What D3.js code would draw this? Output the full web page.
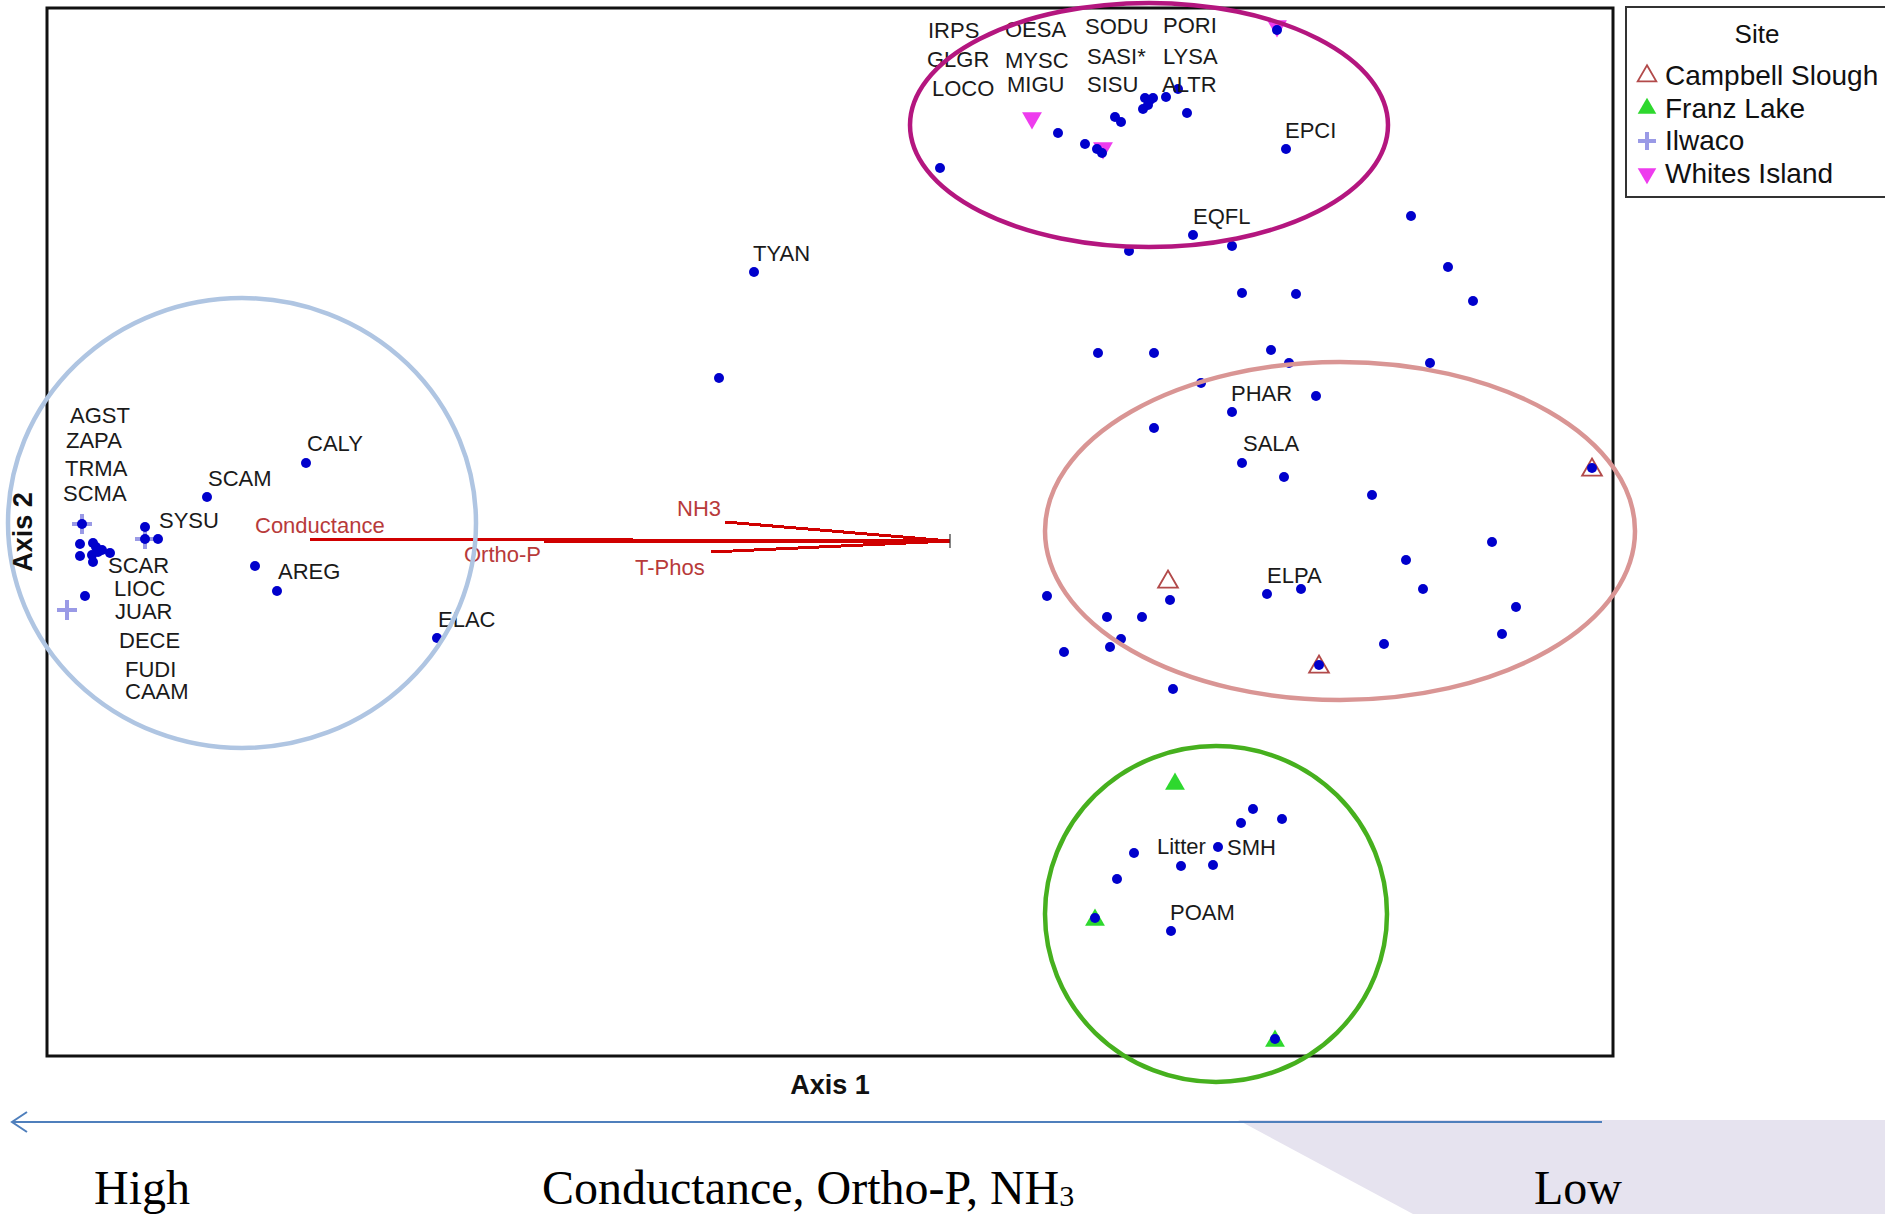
<!DOCTYPE html>
<html>
<head>
<meta charset="utf-8">
<title>NMS ordination by site</title>
<script src="https://d3js.org/d3.v7.min.js"></script>
<style>
	body, html{
		margin: 0;
		padding: 0;
		background: #fff;
		overflow: hidden;
	}
	svg{
		display: block;
	}
	.code{
		font-family: 'Liberation Sans', Arial, sans-serif;
		font-size: 22px;
		fill: #1a1a1a;
	}
	.vec-label{
		font-family: 'Liberation Sans', Arial, sans-serif;
		font-size: 22px;
		fill: #b83a3a;
	}
	.axis-title{
		font-family: 'Liberation Sans', Arial, sans-serif;
		font-size: 27px;
		font-weight: bold;
		fill: #111;
	}
	.legend-text{
		font-family: 'Liberation Sans', Arial, sans-serif;
		font-size: 28px;
		fill: #111;
	}
	.slide-text{
		font-family: 'Liberation Serif', 'Times New Roman', serif;
		font-size: 48px;
		fill: #000;
	}
</style>
</head>
<body>
<svg id="chart" width="1885" height="1214"></svg>

<script>
	// ordination axis ranges (NMS scores)
	var axis1Range = [-1.566, 1.566],
		axis2Range = [-1.048, 1.048];

	// sample units (blue dots), [axis1, axis2]
	var samplePoints = [
		[0.894, 1.004], [0.456, 0.798], [0.220, 0.728], [0.510, 0.776], [0.534, 0.766],
		[0.544, 0.758], [0.570, 0.830], [0.582, 0.820], [0.630, 0.868], [0.640, 0.864],
		[0.636, 0.854], [0.626, 0.846], [0.646, 0.868], [0.672, 0.870], [0.696, 0.886],
		[0.714, 0.838], [0.912, 0.766], [0.726, 0.594], [0.598, 0.562], [0.804, 0.572],
		[1.162, 0.632], [1.236, 0.530], [1.286, 0.462], [0.824, 0.478], [0.932, 0.476],
		[0.536, 0.358], [0.648, 0.358], [0.882, 0.364], [0.918, 0.338], [1.200, 0.338],
		[0.742, 0.298], [0.972, 0.272], [0.804, 0.240], [0.648, 0.208], [0.824, 0.138],
		[0.908, 0.110], [1.084, 0.074], [1.524, 0.128], [1.324, -0.020], [1.152, -0.056],
		[1.186, -0.114], [0.942, -0.114], [0.874, -0.124], [0.680, -0.136], [0.434, -0.128],
		[0.554, -0.170], [0.624, -0.170], [1.372, -0.150], [1.344, -0.204], [1.108, -0.224],
		[0.582, -0.214], [0.560, -0.230], [0.468, -0.240], [0.978, -0.266], [0.686, -0.314],
		[-0.152, 0.520], [-0.222, 0.308],
		[0.846, -0.554], [0.822, -0.582], [0.904, -0.574], [0.608, -0.642], [0.776, -0.630],
		[0.702, -0.668], [0.766, -0.666], [0.574, -0.694], [0.530, -0.772], [0.682, -0.798],
		[0.890, -1.014],
		[-1.496, 0.016], [-1.500, -0.024], [-1.500, -0.048], [-1.474, -0.022], [-1.468, -0.030],
		[-1.476, -0.046], [-1.474, -0.060], [-1.456, -0.036], [-1.440, -0.042], [-1.464, -0.040],
		[-1.370, 0.010], [-1.370, -0.014], [-1.344, -0.014], [-1.490, -0.128],
		[-1.048, 0.138], [-1.246, 0.070], [-1.150, -0.068], [-1.106, -0.118], [-0.786, -0.212]
	];

	// sites
	var siteNames = ['Campbell Slough', 'Franz Lake', 'Ilwaco', 'Whites Island'];
	var campbellSlough = [[0.676, -0.100], [1.524, 0.124], [0.978, -0.270]];
	var franzLake = [[0.690, -0.504], [0.530, -0.776], [0.890, -1.018]];
	var ilwaco = [[-1.496, 0.016], [-1.370, -0.014], [-1.526, -0.156]];
	var whitesIsland = [[0.894, 1.012], [0.404, 0.828], [0.546, 0.768]];

	// species codes, [code, axis1, axis2]
	var speciesLabels = [
		['IRPS', 0.196, 0.988], ['GLGR', 0.194, 0.930], ['LOCO', 0.204, 0.872],
		['OESA', 0.350, 0.990], ['MYSC', 0.350, 0.928], ['MIGU', 0.354, 0.880],
		['SODU', 0.510, 0.996], ['SASI*', 0.514, 0.936], ['SISU', 0.514, 0.880],
		['PORI', 0.666, 0.998], ['LYSA', 0.666, 0.936], ['ALTR', 0.664, 0.880],
		['EPCI', 0.910, 0.788], ['EQFL', 0.726, 0.616], ['TYAN', -0.154, 0.542],
		['PHAR', 0.802, 0.262], ['SALA', 0.826, 0.162], ['ELPA', 0.874, -0.102],
		['Litter', 0.654, -0.644], ['SMH', 0.794, -0.646], ['POAM', 0.680, -0.776],
		['AGST', -1.520, 0.218], ['ZAPA', -1.528, 0.168], ['TRMA', -1.530, 0.112],
		['SCMA', -1.534, 0.062], ['SYSU', -1.342, 0.008], ['SCAR', -1.444, -0.082],
		['LIOC', -1.432, -0.128], ['JUAR', -1.430, -0.174], ['DECE', -1.422, -0.232],
		['FUDI', -1.410, -0.290], ['CAAM', -1.410, -0.334], ['CALY', -1.046, 0.162],
		['SCAM', -1.244, 0.092], ['AREG', -1.104, -0.094], ['ELAC', -0.784, -0.190]
	];

	// environmental vectors (joint plot)
	var vectorOrigin = [0.240, -0.018];
	var vectorNames = ['Conductance', 'Ortho-P', 'NH3', 'T-Phos'];
	var vectorEnds = [[-1.040, -0.014], [-0.572, -0.018], [-0.210, 0.020], [-0.238, -0.040]];
	var vectorLabelPos = [[-1.150, -0.002], [-0.732, -0.060], [-0.306, 0.032], [-0.390, -0.086]];

	// hand drawn groups, [cx, cy, rx, ry]
	var groupEllipses = [
		[-1.176, 0.018, 0.468, 0.450],
		[0.638, 0.814, 0.478, 0.244],
		[1.020, 0.002, 0.590, 0.338],
		[0.772, -0.764, 0.342, 0.336]
	];
	var groupColors = ['#afc5e2', '#b4167f', '#d99594', '#46b01e'];

	var svg = d3.select('#chart'),
		frame = {left: 47, top: 8, right: 1613, bottom: 1056},
		x = d3.scaleLinear().domain(axis1Range).range([frame.left, frame.right]),
		y = d3.scaleLinear().domain(axis2Range).range([frame.bottom, frame.top]);

	svg.append('rect').attr('width', 1885).attr('height', 1214).attr('fill', '#fff');

	// plot frame
	svg.append('rect')
		.attr('x', frame.left).attr('y', frame.top)
		.attr('width', frame.right - frame.left).attr('height', frame.bottom - frame.top)
		.attr('fill', 'none').attr('stroke', '#111').attr('stroke-width', 3);

	// vectors
	var vec = svg.append('g');
	vectorEnds.forEach(function(e, i){
		vec.append('line')
			.attr('x1', x(vectorOrigin[0])).attr('y1', y(vectorOrigin[1]))
			.attr('x2', x(e[0])).attr('y2', y(e[1]))
			.attr('stroke', '#d00000').attr('stroke-width', 3)
			.attr('shape-rendering', 'crispEdges');
		vec.append('text').attr('class', 'vec-label')
			.attr('x', x(vectorLabelPos[i][0])).attr('y', y(vectorLabelPos[i][1]))
			.text(vectorNames[i]);
	});
	vec.append('line')
		.attr('x1', x(vectorOrigin[0])).attr('x2', x(vectorOrigin[0]))
		.attr('y1', y(vectorOrigin[1]) - 7).attr('y2', y(vectorOrigin[1]) + 7)
		.attr('stroke', '#333').attr('stroke-width', 1.2);

	// site symbols
	var tri = d3.symbol().type(d3.symbolTriangle).size(170);
	function triangle(g, pts, fill, stroke, down){
		g.selectAll(null).data(pts).enter().append('path')
			.attr('d', tri)
			.attr('transform', function(d){
				return 'translate(' + x(d[0]) + ',' + y(d[1]) + ')' + (down ? ' rotate(180)' : '');
			})
			.attr('fill', fill)
			.attr('stroke', stroke)
			.attr('stroke-width', stroke == 'none' ? 0 : 1.8);
	}
	function plus(g, px, py, size){
		g.append('path')
			.attr('d', 'M' + (px - size) + ',' + py + 'H' + (px + size) + 'M' + px + ',' + (py - size) + 'V' + (py + size))
			.attr('stroke', '#9a9ae6').attr('stroke-width', 4).attr('fill', 'none');
	}

	var sites = svg.append('g');
	triangle(sites, campbellSlough, 'none', '#b24a4a', false);
	triangle(sites, franzLake, '#2ed82e', 'none', false);
	triangle(sites, whitesIsland, '#ee3cee', 'none', true);
	ilwaco.forEach(function(d){ plus(sites, x(d[0]), y(d[1]), 10); });

	// sample units
	svg.append('g').selectAll('circle').data(samplePoints).enter().append('circle')
		.attr('cx', function(d){ return x(d[0]); })
		.attr('cy', function(d){ return y(d[1]); })
		.attr('r', 5)
		.attr('fill', '#0000cc');

	// species codes
	svg.append('g').selectAll('text').data(speciesLabels).enter().append('text')
		.attr('class', 'code')
		.attr('x', function(d){ return x(d[1]); })
		.attr('y', function(d){ return y(d[2]); })
		.text(function(d){ return d[0]; });

	// group ellipses
	svg.append('g').selectAll('ellipse').data(groupEllipses).enter().append('ellipse')
		.attr('cx', function(d){ return x(d[0]); })
		.attr('cy', function(d){ return y(d[1]); })
		.attr('rx', function(d){ return x(d[0] + d[2]) - x(d[0]); })
		.attr('ry', function(d){ return y(d[1] - d[3]) - y(d[1]); })
		.attr('fill', 'none')
		.attr('stroke', function(d, i){ return groupColors[i]; })
		.attr('stroke-width', 4.5);

	// axis titles
	svg.append('text').attr('class', 'axis-title')
		.attr('x', (frame.left + frame.right) / 2).attr('y', 1094)
		.attr('text-anchor', 'middle').text('Axis 1');
	svg.append('text').attr('class', 'axis-title')
		.attr('transform', 'translate(32,' + (frame.top + frame.bottom) / 2 + ') rotate(-90)')
		.attr('text-anchor', 'middle').text('Axis 2');

	// legend
	var legend = svg.append('g');
	legend.append('rect')
		.attr('x', 1626).attr('y', 7).attr('width', 300).attr('height', 190)
		.attr('fill', '#fff').attr('stroke', '#333').attr('stroke-width', 2);
	legend.append('text').attr('class', 'legend-text')
		.attr('x', 1757).attr('y', 43).attr('text-anchor', 'middle')
		.style('font-size', '26px').text('Site');
	var legendSize = d3.symbol().type(d3.symbolTriangle).size(150);
	siteNames.forEach(function(name, i){
		var ly = 85 + i * 32.5,
			sy = ly - 9;
		if (i == 2){
			plus(legend, 1647, sy, 9);
		} else {
			legend.append('path')
				.attr('d', legendSize)
				.attr('transform', 'translate(1647,' + sy + ')' + (i == 3 ? ' rotate(180)' : ''))
				.attr('fill', i == 0 ? 'none' : (i == 1 ? '#2ed82e' : '#ee3cee'))
				.attr('stroke', i == 0 ? '#b24a4a' : 'none')
				.attr('stroke-width', 1.8);
		}
		legend.append('text').attr('class', 'legend-text')
			.attr('x', 1665).attr('y', ly).text(name);
	});

	// slide annotation: gradient arrow along axis 1
	svg.append('polygon')
		.attr('points', '1238,1120 1885,1120 1885,1214 1413,1214')
		.attr('fill', '#e6e3ef');
	svg.append('path')
		.attr('d', 'M1602,1122H12M27,1112L12,1122L27,1132')
		.attr('fill', 'none').attr('stroke', '#4f7fbc').attr('stroke-width', 2);

	svg.append('text').attr('class', 'slide-text').attr('x', 94).attr('y', 1204).text('High');
	var mid = svg.append('text').attr('class', 'slide-text').attr('x', 542).attr('y', 1204);
	mid.append('tspan').text('Conductance, Ortho-P, NH');
	mid.append('tspan').attr('dy', 2).style('font-size', '30px').text('3');
	svg.append('text').attr('class', 'slide-text').attr('x', 1534).attr('y', 1204).text('Low');
</script>
</body>
</html>
